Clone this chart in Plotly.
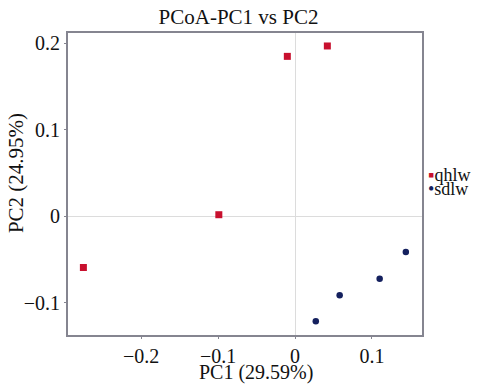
import plotly.graph_objects as go

qhlw_x = [-0.010, 0.042, -0.099, -0.275]
qhlw_y = [0.185, 0.197, 0.002, -0.059]
sdlw_x = [0.027, 0.058, 0.110, 0.144]
sdlw_y = [-0.121, -0.091, -0.072, -0.041]
x_ticks = [-0.2, -0.1, 0, 0.1]
x_tick_labels = ["\u22120.2", "\u22120.1", "0", "0.1"]
y_ticks = [-0.1, 0, 0.1, 0.2]
y_tick_labels = ["\u22120.1", "0", "0.1", "0.2"]
group_names = ["qhlw", "sdlw"]
group_colors = ["#c8102e", "#14205e"]

font = "Liberation Serif"
fig = go.Figure()
fig.add_trace(go.Scatter(x=qhlw_x, y=qhlw_y, mode="markers", name=group_names[0],
                         marker=dict(symbol="square", size=7, color=group_colors[0])))
fig.add_trace(go.Scatter(x=sdlw_x, y=sdlw_y, mode="markers", name=group_names[1],
                         marker=dict(symbol="circle", size=6.5, color=group_colors[1])))
axis_common = dict(showgrid=False, zeroline=True, zerolinecolor="#dcdcdc", zerolinewidth=1,
                   showline=True, linecolor="#858590", linewidth=2, mirror=True,
                   ticks="outside", ticklen=2, tickcolor="#858590", automargin=False,
                   tickfont=dict(family=font, size=20, color="#111"))
legend_syms = ["\u25aa", "\u2022"]
annotations = []
for i, (nm, col, sym) in enumerate(zip(group_names, group_colors, legend_syms)):
    annotations.append(dict(
        xref="paper", yref="paper", x=1.012, y=0.530 - i * 0.046, xanchor="left", yanchor="middle",
        showarrow=False,
        text=f"<span style='color:{col}'>{sym}</span>{nm}",
        font=dict(family=font, size=18, color="#111")))
annotations.append(dict(xref="paper", yref="paper", x=0.532, y=-0.123, xanchor="center",
                        yanchor="middle", showarrow=False, text="PC1 (29.59%)",
                        font=dict(family=font, size=20, color="#111")))
annotations.append(dict(xref="paper", yref="paper", x=-0.147, y=0.536, xanchor="center",
                        yanchor="middle", showarrow=False, text="PC2 (24.95%)", textangle=-90,
                        font=dict(family=font, size=21, color="#111")))
fig.update_layout(
    width=477, height=386,
    margin=dict(l=68, r=55, t=33, b=51, autoexpand=False),
    plot_bgcolor="white", paper_bgcolor="white",
    showlegend=False,
    font=dict(family=font, color="#111"),
    title=dict(text="PCoA-PC1 vs PC2", x=0.5, xanchor="center", y=0.977, yanchor="top",
               font=dict(family=font, size=21, color="#111")),
    xaxis=dict(range=[-0.295, 0.165], tickvals=x_ticks, ticktext=x_tick_labels, **axis_common),
    yaxis=dict(range=[-0.137, 0.212], tickvals=y_ticks, ticktext=y_tick_labels, **axis_common),
    annotations=annotations,
)
fig.write_html("out.html", config={"displayModeBar": False},
               post_script="document.body.style.margin='0';document.body.style.overflow='hidden';")
